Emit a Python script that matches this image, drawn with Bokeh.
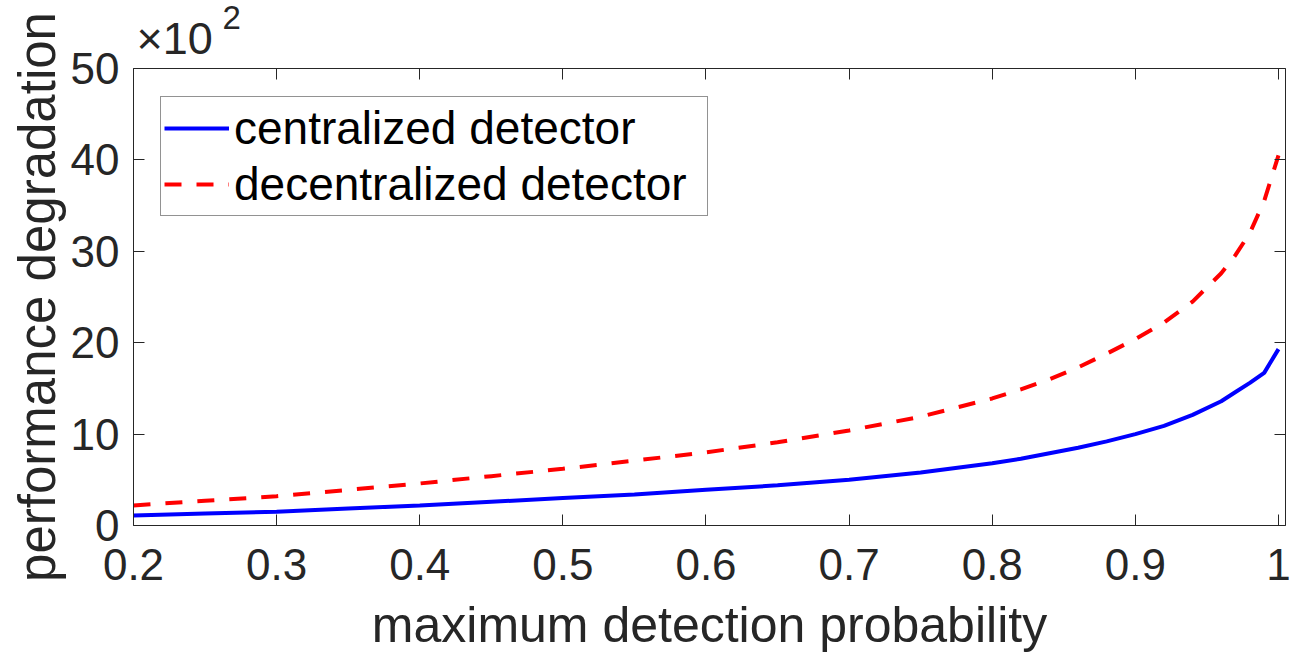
from bokeh.plotting import figure
from bokeh.models import LinearAxis, FixedTicker, Range1d, Legend, LegendItem, Title
from bokeh.embed import file_html
from bokeh.resources import INLINE

# ---- data (values in units of 10^2) ----
prob = [0.2, 0.25, 0.3, 0.35, 0.4, 0.45, 0.5, 0.55, 0.6, 0.65, 0.7, 0.75,
        0.8, 0.82, 0.84, 0.86, 0.88, 0.9, 0.92, 0.94, 0.96, 0.97, 0.98, 0.99, 1.0]
centralized = [1.1, 1.3, 1.5, 1.85, 2.2, 2.6, 3.0, 3.4, 3.9, 4.4, 5.0, 5.8,
               6.8, 7.3, 7.9, 8.5, 9.2, 10.0, 10.9, 12.1, 13.6, 14.6, 15.6, 16.7, 19.3]
decentralized = [2.2, 2.7, 3.2, 3.9, 4.6, 5.4, 6.2, 7.1, 8.0, 9.1, 10.4, 11.9,
                 13.9, 14.9, 16.0, 17.3, 18.8, 20.4, 22.2, 24.5, 27.6, 29.6, 32.0, 35.5, 40.5]

x_ticks = [0.2, 0.3, 0.4, 0.5, 0.6, 0.7, 0.8, 0.9, 1.0]
x_tick_labels = ["0.2", "0.3", "0.4", "0.5", "0.6", "0.7", "0.8", "0.9", "1"]
y_ticks = [0, 10, 20, 30, 40, 50]
y_tick_labels = ["0", "10", "20", "30", "40", "50"]
series_names = ["centralized detector", "decentralized detector"]
x_title = "maximum detection probability"
y_title = "performance degradation"
scale_base = "×10"
scale_power = "2"

FONT = "Liberation Sans"
AX = "#262626"

p = figure(width=1311, height=657, output_backend="svg", toolbar_location=None,
           x_range=Range1d(0.2, 1.0049), y_range=Range1d(0, 50),
           min_border_left=133, min_border_right=26, min_border_top=68,
           min_border_bottom=132)
p.xgrid.visible = False
p.ygrid.visible = False
p.outline_line_color = None
p.background_fill_color = "white"
p.border_fill_color = "white"


def style_axis(ax, ticks, labels, show_labels):
    ax.ticker = FixedTicker(ticks=ticks)
    ax.minor_tick_line_color = None
    ax.major_tick_in = 11
    ax.major_tick_out = 0
    ax.major_tick_line_color = AX
    ax.major_tick_line_width = 1
    ax.axis_line_color = AX
    ax.axis_line_width = 1
    if show_labels:
        ax.major_label_overrides = {t: l for t, l in zip(ticks, labels)}
        ax.major_label_text_font = FONT
        ax.major_label_text_font_size = "44px"
        ax.major_label_text_color = AX
    else:
        ax.major_label_text_font_size = "0px"
        ax.major_label_standoff = 0
        ax.major_label_text_color = None


style_axis(p.xaxis[0], x_ticks, x_tick_labels, True)
style_axis(p.yaxis[0], y_ticks, y_tick_labels, True)
p.xaxis[0].major_label_standoff = 23
p.yaxis[0].major_label_standoff = 14

p.xaxis[0].axis_label = x_title
p.yaxis[0].axis_label = y_title
for ax in (p.xaxis[0], p.yaxis[0]):
    ax.axis_label_text_font = FONT
    ax.axis_label_text_font_style = "normal"
    ax.axis_label_text_color = AX
p.xaxis[0].axis_label_text_font_size = "50px"
p.yaxis[0].axis_label_text_font_size = "51px"
p.xaxis[0].axis_label_standoff = 14
p.yaxis[0].axis_label_standoff = 2

top = LinearAxis()
style_axis(top, x_ticks, x_tick_labels, False)
p.add_layout(top, "above")
right = LinearAxis()
style_axis(right, y_ticks, y_tick_labels, False)
p.add_layout(right, "right")

# "x10" multiplier just above the frame, with its superscript above it
base_title = Title(text=scale_base, text_font=FONT, text_font_size="45px",
                   text_font_style="normal", text_color=AX, align="left",
                   offset=3, standoff=9)
p.add_layout(base_title, "above")

p.title.text = scale_power
p.title.text_font = FONT
p.title.text_font_size = "33px"
p.title.text_font_style = "normal"
p.title.text_color = AX
p.title.align = "left"
p.title.offset = 89
try:
    p.title.standoff = -44
except Exception:
    p.title.standoff = 0

r1 = p.line(prob, centralized, line_color="#0000FF", line_width=4)
r2 = p.line(prob, decentralized, line_color="#FF0000", line_width=4,
            line_dash="17 15")

legend = Legend(items=[LegendItem(label=series_names[0], renderers=[r1]),
                       LegendItem(label=series_names[1], renderers=[r2])],
                location=(27, 309))
legend.label_text_font = FONT
legend.label_text_font_size = "46px"
legend.label_text_color = "black"
legend.glyph_width = 65
legend.glyph_height = 56
legend.label_height = 56
legend.label_width = 470
legend.label_standoff = 5
legend.padding = 3
legend.spacing = 0
legend.margin = 0
legend.border_line_color = AX
legend.border_line_width = 1
legend.background_fill_color = "white"
legend.background_fill_alpha = 1
p.add_layout(legend)

open("out.html", "w").write(file_html(p, INLINE))
